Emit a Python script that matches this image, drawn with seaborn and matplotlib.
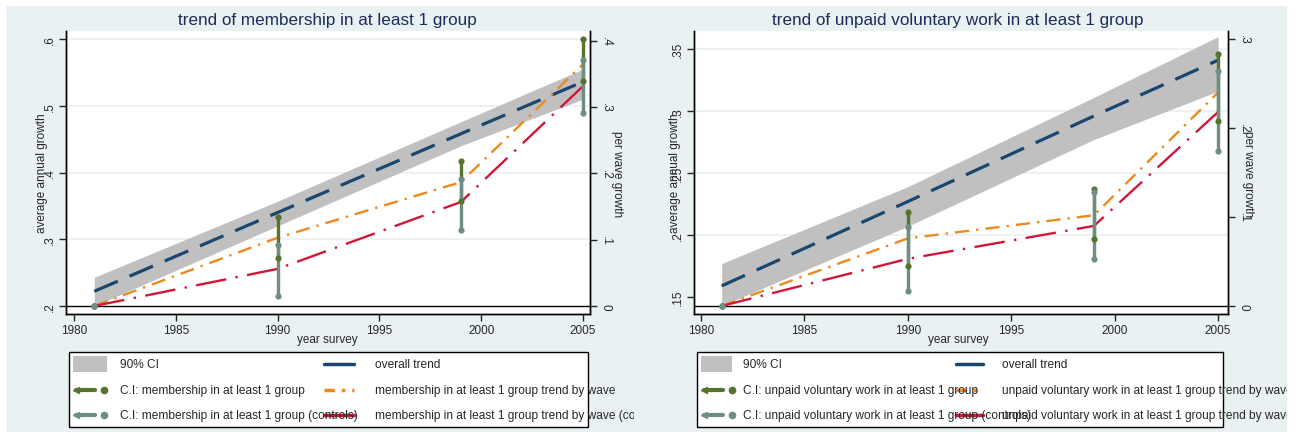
import seaborn as sns
import matplotlib.pyplot as plt
from matplotlib.patches import Rectangle
from matplotlib.lines import Line2D

sns.set_style("white")
plt.rcParams['font.family'] = ['Liberation Sans', 'DejaVu Sans']

W, H = 1296, 435

# ---- data ----
years = [1981, 1990, 1999, 2005]
xticks = [1980, 1985, 1990, 1995, 2000, 2005]

# panel 1: membership in at least 1 group
mem_title = 'trend of membership in at least 1 group'
mem_trend = [0.222, 0.340, 0.458, 0.536]
mem_band_lo = [0.200, 0.320, 0.440, 0.510]
mem_band_hi = [0.243, 0.357, 0.476, 0.555]
mem_wave = [0.0, 0.103, 0.187, 0.365]
mem_wave_ctrl = [0.0, 0.056, 0.157, 0.332]
mem_ci_lo = [0.0, 0.072, 0.159, 0.339]
mem_ci_hi = [0.0, 0.134, 0.219, 0.403]
mem_ci_ctrl_lo = [0.0, 0.015, 0.115, 0.291]
mem_ci_ctrl_hi = [0.0, 0.092, 0.192, 0.371]
mem_left_ticks = [0.2, 0.3, 0.4, 0.5, 0.6]
mem_left_labels = ['.2', '.3', '.4', '.5', '.6']
mem_right_ticks = [0, 0.1, 0.2, 0.3, 0.4]
mem_right_labels = ['0', '.1', '.2', '.3', '.4']

# panel 2: unpaid voluntary work in at least 1 group
vol_title = 'trend of unpaid voluntary work in at least 1 group'
vol_trend = [0.159, 0.227, 0.296, 0.341]
vol_band_lo = [0.143, 0.207, 0.277, 0.316]
vol_band_hi = [0.177, 0.239, 0.311, 0.360]
vol_wave = [0.0, 0.076, 0.102, 0.240]
vol_wave_ctrl = [0.0, 0.053, 0.090, 0.218]
vol_ci_lo = [0.0, 0.045, 0.075, 0.208]
vol_ci_hi = [0.0, 0.106, 0.131, 0.283]
vol_ci_ctrl_lo = [0.0, 0.017, 0.053, 0.174]
vol_ci_ctrl_hi = [0.0, 0.089, 0.128, 0.264]
vol_left_ticks = [0.15, 0.2, 0.25, 0.3, 0.35]
vol_left_labels = ['.15', '.2', '.25', '.3', '.35']
vol_right_ticks = [0, 0.1, 0.2, 0.3]
vol_right_labels = ['0', '.1', '.2', '.3']

NAVY = '#1A476F'
ORANGE = '#EC8A1E'
RED = '#D0173A'
GREEN = '#55752F'
TEAL = '#6E8E84'
BAND = '#C0C0C0'
BG = '#EAF1F3'
TITLE_C = '#1E2B5B'


def px_rect(l, t, r, b):
    return [l / W, 1 - b / H, (r - l) / W, (b - t) / H]


fig = plt.figure(figsize=(W / 100, H / 100), dpi=100)
fig.patch.set_facecolor('white')

bg = fig.add_axes([0, 0, 1, 1], zorder=-5)
bg.set_xlim(0, W)
bg.set_ylim(H, 0)
bg.axis('off')
bg.add_patch(Rectangle((6, 7), 1281, 426, color=BG, lw=0))

top = fig.add_axes([0, 0, 1, 1], zorder=10)
top.set_xlim(0, W)
top.set_ylim(H, 0)
top.axis('off')
top.patch.set_alpha(0)


def draw_panel(box, xlim, ylim, ylim2, trend, blo, bhi, wave, wave_ctrl,
               ci_lo, ci_hi, cc_lo, cc_hi, lt, ll, rt, rl):
    ax = fig.add_axes(px_rect(*box))
    ax.set_facecolor('white')
    ax.set_xlim(*xlim)
    ax.set_ylim(*ylim)
    for t in lt[1:]:
        ax.axhline(t, color=BG, lw=1.2, zorder=0)
    ax.fill_between(years, blo, bhi, color=BAND, lw=0, zorder=1)
    sns.lineplot(x=years, y=trend, ax=ax, color=NAVY, lw=2.3,
                 linestyle=(0, (8, 4)), zorder=2)

    ax2 = ax.twinx()
    ax2.set_ylim(*ylim2)
    ax2.axhline(0, color='black', lw=1, zorder=1)
    sns.lineplot(x=years, y=wave, ax=ax2, color=ORANGE, lw=1.7,
                 linestyle=(0, (6, 3, 1, 3)), zorder=2)
    sns.lineplot(x=years, y=wave_ctrl, ax=ax2, color=RED, lw=1.7,
                 linestyle=(0, (13, 4, 1, 4)), zorder=2)
    for lo, hi, c in [(ci_lo, ci_hi, GREEN), (cc_lo, cc_hi, TEAL)]:
        ax2.vlines(years, lo, hi, color=c, lw=2.4, zorder=3)
        sns.scatterplot(x=years + years, y=lo + hi, ax=ax2, color=c, s=20,
                        edgecolor=c, linewidth=0, zorder=4)

    for a in (ax, ax2):
        a.spines['top'].set_visible(False)
        for s in ('left', 'right', 'bottom'):
            a.spines[s].set_color('black')
            a.spines[s].set_linewidth(1)
    ax.set_xticks(xticks)
    ax.set_xticklabels([str(x) for x in xticks])
    ax.set_yticks(lt)
    ax.set_yticklabels(ll, rotation=90, va='center')
    ax2.set_yticks(rt)
    ax2.set_yticklabels(rl, rotation=-90, va='center')
    ax.tick_params(axis='both', direction='out', length=5, width=1,
                   labelsize=8.5, pad=2, left=True, bottom=True)
    ax2.tick_params(axis='y', direction='out', length=5, width=1,
                    labelsize=8.5, pad=2, right=True)
    ax.set_xlabel('')
    ax.set_ylabel('')
    ax2.set_ylabel('')
    return ax


draw_panel((66, 32, 590, 315), (1979.61, 2005.34), (0.188, 0.612),
           (-0.0121, 0.4151), mem_trend, mem_band_lo, mem_band_hi,
           mem_wave, mem_wave_ctrl, mem_ci_lo, mem_ci_hi,
           mem_ci_ctrl_lo, mem_ci_ctrl_hi,
           mem_left_ticks, mem_left_labels, mem_right_ticks, mem_right_labels)

draw_panel((694, 32, 1228, 315), (1979.66, 2005.48), (0.1363, 0.3645),
           (-0.009, 0.309), vol_trend, vol_band_lo, vol_band_hi,
           vol_wave, vol_wave_ctrl, vol_ci_lo, vol_ci_hi,
           vol_ci_ctrl_lo, vol_ci_ctrl_hi,
           vol_left_ticks, vol_left_labels, vol_right_ticks, vol_right_labels)

# titles and axis labels
for cx, ttl, ylx, yrx in [(327, mem_title, 42, 617), (958, vol_title, 675, 1248)]:
    top.text(cx, 20, ttl, ha='center', va='center', fontsize=12.3, color=TITLE_C)
    top.text(cx, 340, 'year survey', ha='center', va='center', fontsize=8.5)
    top.text(ylx, 173, 'average annual growth', ha='center', va='center',
             rotation=90, fontsize=8.5)
    top.text(yrx, 174, 'per wave growth', ha='center', va='center',
             rotation=-90, fontsize=8.5)


# legends, drawn by hand so the long labels run past the box as in the original
def draw_legend(box, clip_x, h1, t1, h2, t2, name):
    l, t, r, b = box
    top.add_patch(Rectangle((l, t), r - l, b - t, facecolor='white',
                            edgecolor='black', lw=1))
    clip = Rectangle((0, 0), clip_x, H, transform=top.transData)
    rows = [365, 391, 416]
    labels1 = ['90% CI', 'C.I: ' + name, 'C.I: ' + name + ' (controls)']
    labels2 = ['overall trend', name + ' trend by wave',
               name + ' trend by wave (controls)']
    # column 1 keys
    top.add_patch(Rectangle((h1[0], 357), h1[1] - h1[0], 16, color=BAND, lw=0))
    for y, c in [(rows[1], GREEN), (rows[2], TEAL)]:
        top.add_line(Line2D([h1[0] + 3, h1[0] + 22], [y, y], color=c, lw=3))
        top.add_line(Line2D([h1[0] + 3], [y], marker='<', ms=5, color=c, lw=0))
        top.add_line(Line2D([h1[0] + 31], [y], marker='o', ms=4.5, color=c, lw=0))
    for y, s1, s2 in zip(rows, labels1, labels2):
        for x, s in [(t1, s1), (t2, s2)]:
            tx = top.text(x, y, s, ha='left', va='center', fontsize=8.6)
            tx.set_clip_on(True)
            tx.set_clip_path(clip)
    # column 2 keys (drawn over the long column-1 labels, as in the original)
    top.add_line(Line2D(h2, [rows[0]] * 2, color=NAVY, lw=2.5))
    top.add_line(Line2D(h2, [rows[1]] * 2, color=ORANGE, lw=2.5,
                        linestyle=(0, (3, 2, 1, 2))))
    top.add_line(Line2D(h2, [rows[2]] * 2, color=RED, lw=2.5))


draw_legend((69, 353, 588, 428), 634, (73, 107), 120, (324, 354), 375,
            'membership in at least 1 group')
draw_legend((697, 353, 1223, 428), 1287, (701, 732), 743, (956, 983), 1002,
            'unpaid voluntary work in at least 1 group')

plt.savefig('out.png', dpi=100)
plt.close()
